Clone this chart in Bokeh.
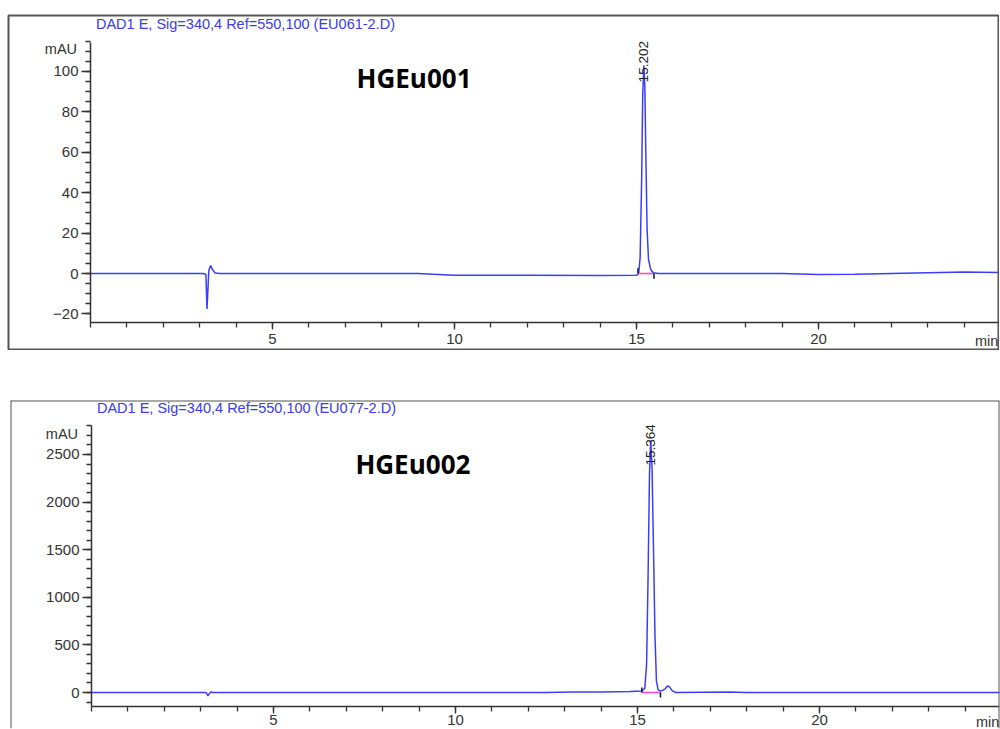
import math
from bokeh.plotting import figure
from bokeh.models import Range1d, LinearAxis, FixedTicker, Label, ColumnDataSource, Span
from bokeh.layouts import column
from bokeh.embed import file_html
from bokeh.resources import INLINE
from bokeh.core.properties import value

# ---------------- data ----------------
# Panel 1 : HGEu001 (EU061-2.D)
t1 = [0.00, 1.00, 2.00, 3.00, 3.10, 3.17, 3.20, 3.22, 3.25, 3.30, 3.35, 3.42, 3.55,
      5.00, 7.00, 9.00, 9.40, 10.00, 12.00, 14.00, 15.00,
      15.06, 15.10, 15.14, 15.17, 15.202, 15.23, 15.26, 15.29, 15.33, 15.39, 15.46, 15.60,
      17.00, 19.00, 20.00, 21.00, 22.00, 23.00, 24.00, 25.00]
a1 = [0.0, 0.0, 0.0, 0.0, 0.0, -0.5, -17.5, -10.0, 1.5, 4.0, 2.0, 0.3, 0.0,
      0.0, 0.0, 0.0, -0.3, -0.8, -0.9, -1.0, -0.9,
      0.0, 8.0, 45.0, 88.0, 103.0, 92.0, 55.0, 22.0, 7.0, 2.0, 0.4, 0.0,
      0.0, 0.0, -0.5, -0.4, 0.0, 0.4, 0.8, 0.5]
peak1_rt = [15.202]
peak1_label = ["15.202"]
peak1_label_y = [94.6]
base1 = [15.04, 15.48]
name1 = "HGEu001"
title1 = "DAD1 E, Sig=340,4 Ref=550,100 (EU061-2.D)"
yticks1 = [-20, 0, 20, 40, 60, 80, 100]

# Panel 2 : HGEu002 (EU077-2.D)
t2 = [0.00, 3.15, 3.20, 3.24, 3.28, 3.35, 12.50, 13.20, 14.00, 14.80, 15.10,
      15.20, 15.25, 15.29, 15.33, 15.364, 15.40, 15.44, 15.48, 15.52, 15.57,
      15.65, 15.75, 15.83, 15.88, 15.95, 16.05, 17.50, 18.00, 25.00]
a2 = [0, 0, -35, -10, 5, 0, 0, 5, 5, 10, 15,
      40, 300, 1200, 2300, 2650, 2350, 1500, 600, 120, 25,
      15, 35, 70, 60, 20, 0, 5, 0, 0]
peak2_rt = [15.364]
peak2_label = ["15.364"]
peak2_label_y = [2384]
base2 = [15.12, 15.63]
name2 = "HGEu002"
title2 = "DAD1 E, Sig=340,4 Ref=550,100 (EU077-2.D)"
yticks2 = [0, 500, 1000, 1500, 2000, 2500]

xticks = [5, 10, 15, 20]

# ---------------- styling ----------------
FONT = "Liberation Sans"
TRACE = "#3c3cff"
TITLE_C = "#3a3af0"
AX_C = "#333333"
FRAME_C = "#555555"


def panel(width, height, margin, xr, yr, t, a, rt, lab, lab_y, base, name, title,
          yticks, ybounds, yminor, xaxis_level, tick_len, title_y, mau_y, name_xy, min_y,
          full_outline, x_standoff):
    p = figure(width=width, height=height, x_range=Range1d(*xr), y_range=Range1d(*yr),
               output_backend="svg", toolbar_location=None,
               x_axis_location=None, y_axis_location=None, min_border=1,
               background_fill_color="white", border_fill_color="white")
    p.margin = margin
    if full_outline:
        p.outline_line_color = FRAME_C
        p.outline_line_width = 2
    else:
        p.outline_line_color = None
        for loc, dim in [(xr[0], "height"), (xr[1], "height"), (yr[1], "width")]:
            p.add_layout(Span(location=loc, dimension=dim, line_color=FRAME_C, line_width=2))

    xa = LinearAxis(fixed_location=xaxis_level, bounds=(0, 25),
                    ticker=FixedTicker(ticks=xticks, minor_ticks=list(range(0, 26))))
    ya = LinearAxis(fixed_location=0, bounds=ybounds,
                    ticker=FixedTicker(ticks=yticks, minor_ticks=yminor))
    for ax in (xa, ya):
        ax.axis_line_color = AX_C
        ax.axis_line_width = 1.5
        ax.major_tick_line_color = AX_C
        ax.minor_tick_line_color = AX_C
        ax.major_tick_line_width = 1.3
        ax.minor_tick_line_width = 1.3
        ax.major_tick_in = 0
        ax.minor_tick_in = 0
        ax.major_label_text_font = FONT
        ax.major_label_text_font_size = "15px"
        ax.major_label_text_color = AX_C
    xa.major_tick_out = 7
    xa.minor_tick_out = 5
    xa.major_label_standoff = x_standoff
    ya.major_tick_out = 9
    ya.minor_tick_out = 5
    ya.major_label_standoff = 3
    p.add_layout(xa, "below")
    p.add_layout(ya, "left")

    # chromatogram trace
    p.line(t, a, line_color=TRACE, line_width=1.5)

    # integration baseline and markers
    tick = tick_len
    p.segment(x0=[base[0]], y0=[0], x1=[base[1]], y1=[0], line_color="#ff3fc8", line_width=1.6)
    p.segment(x0=[base[0], base[1]], y0=[0, 0], x1=[base[0], base[1]], y1=[tick, -tick],
              line_color="#111111", line_width=1.5)

    # peak label
    src = ColumnDataSource(dict(x=rt, y=lab_y, text=lab))
    p.text(x="x", y="y", text="text", source=src, angle=math.pi / 2,
           text_font=value(FONT), text_font_size="13.5px", text_align="left",
           text_baseline="middle", text_color="#222222")

    # texts
    p.add_layout(Label(x=0.15, y=title_y, text=title, text_font=FONT, text_font_size="14.5px",
                       text_color=TITLE_C, text_baseline="middle", text_align="left"))
    p.add_layout(Label(x=-0.37, y=mau_y, text="mAU", text_font=FONT, text_font_size="14.5px",
                       text_color=AX_C, text_baseline="middle", text_align="right"))
    p.add_layout(Label(x=name_xy[0], y=name_xy[1], text=name, text_font="Open Sans",
                       text_font_size="26px", text_font_style="bold", text_color="#000000",
                       text_baseline="alphabetic", text_align="left"))
    p.add_layout(Label(x=24.3, y=min_y, text="min", text_font=FONT, text_font_size="14.5px",
                       text_color=AX_C, text_baseline="middle", text_align="left"))
    p.grid.visible = False
    return p


p1 = panel(992, 336, (14, 0, 0, 7), (-2.253, 24.945), (-37.6, 127.7), t1, a1,
           peak1_rt, peak1_label, peak1_label_y, base1, name1, title1,
           yticks1, (-24.3, 114.5), list(range(-20, 116, 5)), -24.3, 2.6,
           123.3, 110.9, (7.31, 97.0), -33.2, True, 4)

p2 = panel(991, 330, (49, 0, 0, 9), (-2.225, 24.945), (-378, 3067), t2, a2,
           peak2_rt, peak2_label, peak2_label_y, base2, name2, title2,
           yticks2, (-147, 2800), list(range(-100, 2801, 100)), -147, 52,
           2983, 2720, (7.25, 2395), -305, False, 1)

layout = column(p1, p2)
open("out.html", "w").write(file_html(layout, INLINE))
